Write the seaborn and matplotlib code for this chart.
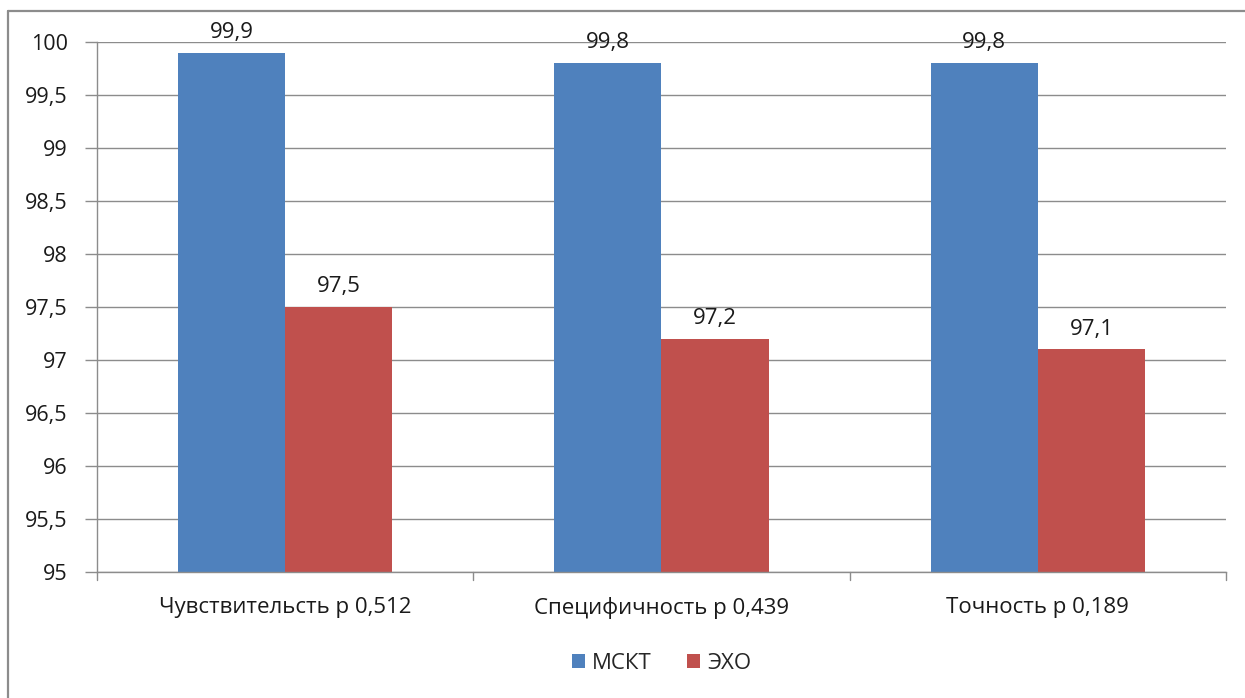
import matplotlib
matplotlib.use("Agg")
import matplotlib.pyplot as plt
import seaborn as sns
import pandas as pd
from matplotlib.lines import Line2D

categories = ["Чувствительсть р 0,512", "Специфичность р 0,439", "Точность р 0,189"]
series_names = ["МСКТ", "ЭХО"]
mskt_values = [99.9, 99.8, 99.8]
echo_values = [97.5, 97.2, 97.1]
y_ticks = [95, 95.5, 96, 96.5, 97, 97.5, 98, 98.5, 99, 99.5, 100]

colors = ["#4F81BD", "#C0504D"]

df = pd.DataFrame({
    "category": categories * 2,
    "series": [series_names[0]] * 3 + [series_names[1]] * 3,
    "value": mskt_values + echo_values,
})

sns.set_style("white")
plt.rcParams["font.family"] = ["Open Sans", "DejaVu Sans"]

FS = 16
TXT = "#1a1a1a"
GRID = "#8c8c8c"

fig = plt.figure(figsize=(12.45, 6.98), dpi=100)
ax = fig.add_axes([0.0779, 0.1805, 0.9068, 0.7593])

sns.barplot(data=df, x="category", y="value", hue="series", palette=colors,
            width=0.57, ax=ax, saturation=1, legend=True, linewidth=0)

ax.set_ylim(95, 100)
ax.set_xlim(-0.5, 2.5)
ax.set_yticks(y_ticks)
ax.set_yticklabels([f"{t:g}".replace(".", ",") for t in y_ticks], fontsize=FS - 0.5, color=TXT)
ax.tick_params(axis="x", labelsize=FS, labelcolor=TXT, length=0, pad=18)
ax.tick_params(axis="y", length=9, color=GRID, width=1, pad=12, left=True)
ax.yaxis.grid(True, color=GRID, linewidth=1)
ax.set_axisbelow(True)
ax.set_xlabel("")
ax.set_ylabel("")

for side in ["top", "right"]:
    ax.spines[side].set_visible(False)
for side in ["left", "bottom"]:
    ax.spines[side].set_color(GRID)
    ax.spines[side].set_linewidth(1)

# category separators below the x axis
for xb in [-0.5, 0.5, 1.5, 2.5]:
    ax.plot([xb, xb], [0, -0.016], transform=ax.get_xaxis_transform(),
            color=GRID, linewidth=1, clip_on=False)

for container in ax.containers:
    labels = [f"{b.get_height():.1f}".replace(".", ",") for b in container]
    ax.bar_label(container, labels=labels, padding=7, fontsize=FS, color=TXT)

handles, lbls = ax.get_legend_handles_labels()
ax.legend(handles, lbls, loc="center", bbox_to_anchor=(0.5, -0.172), ncol=2,
          frameon=False, fontsize=FS, handlelength=0.6, handleheight=0.6,
          handletextpad=0.3, columnspacing=1.6)

# chart-area frame: left and top edges
fx, fy = 7.5 / 1245, 1 - 10.5 / 698
fig.add_artist(Line2D([fx, fx], [0, fy], transform=fig.transFigure,
                      color=GRID, linewidth=1.6))
fig.add_artist(Line2D([fx, 1], [fy, fy], transform=fig.transFigure,
                      color=GRID, linewidth=1.6))

fig.savefig("out.png", dpi=100, facecolor="white")
